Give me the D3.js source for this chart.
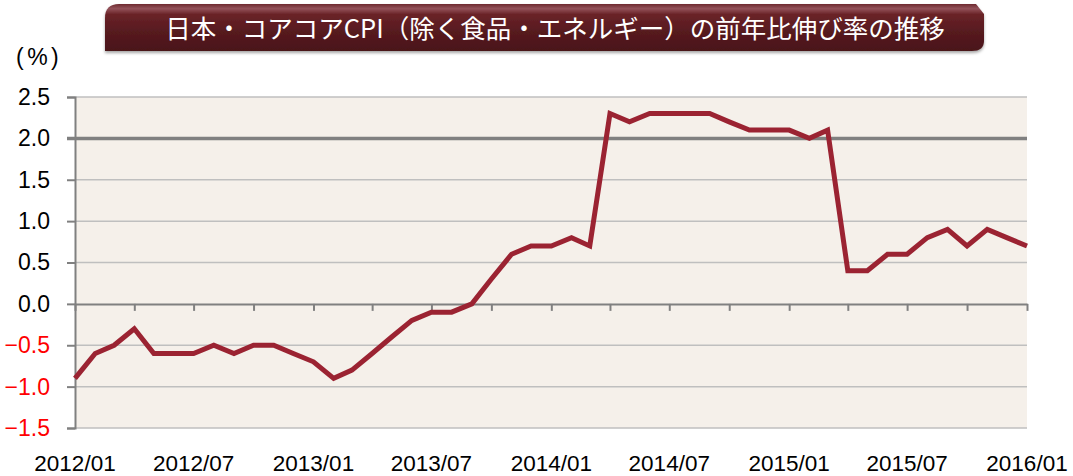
<!DOCTYPE html>
<html>
<head>
<meta charset="utf-8">
<script src="https://cdn.jsdelivr.net/npm/d3@7"></script>
<style>
  body { margin: 0; background: #fff; }
  svg text { font-family: "Liberation Sans", Arial, sans-serif; }
</style>
</head>
<body>
<script>
// chart data
var title = "日本・コアコアCPI（除く食品・エネルギー）の前年比伸び率の推移";
var startMonth = "2012/01";
var cpiValues = [-0.9, -0.6, -0.5, -0.3, -0.6, -0.6, -0.6, -0.5, -0.6, -0.5, -0.5, -0.6,
                 -0.7, -0.9, -0.8, -0.6, -0.4, -0.2, -0.1, -0.1, 0.0, 0.3, 0.6, 0.7,
                 0.7, 0.8, 0.7, 2.3, 2.2, 2.3, 2.3, 2.3, 2.3, 2.2, 2.1, 2.1,
                 2.1, 2.0, 2.1, 0.4, 0.4, 0.6, 0.6, 0.8, 0.9, 0.7, 0.9, 0.8,
                 0.7];
var xTickLabels = ["2012/01", "2012/07", "2013/01", "2013/07", "2014/01", "2014/07", "2015/01", "2015/07", "2016/01"];
var yTicks = [2.5, 2.0, 1.5, 1.0, 0.5, 0.0, -0.5, -1.0, -1.5];

var svgWidth = 1073;
var svgHeight = 476;
var margin = { top: 97, right: 46, bottom: 48, left: 75 };
var width = svgWidth - margin.left - margin.right;
var height = svgHeight - margin.top - margin.bottom;

var parseMonth = d3.timeParse("%Y/%m");
var t0 = parseMonth(startMonth);
var months = cpiValues.map(function (v, i) { return d3.timeMonth.offset(t0, i); });

var svg = d3.select("body").append("svg")
  .attr("width", svgWidth)
  .attr("height", svgHeight);

var defs = svg.append("defs");
var grad = defs.append("linearGradient")
  .attr("id", "bannerGrad")
  .attr("x1", 0).attr("y1", 0).attr("x2", 0).attr("y2", 1);
grad.append("stop").attr("offset", "0%").attr("stop-color", "#6e2a30");
grad.append("stop").attr("offset", "10%").attr("stop-color", "#93525a");
grad.append("stop").attr("offset", "22%").attr("stop-color", "#6a2228");
grad.append("stop").attr("offset", "60%").attr("stop-color", "#561a1f");
grad.append("stop").attr("offset", "100%").attr("stop-color", "#4a1519");

var shadow = defs.append("filter").attr("id", "bshadow")
  .attr("x", "-5%").attr("y", "-20%").attr("width", "110%").attr("height", "160%");
shadow.append("feDropShadow")
  .attr("dx", 0).attr("dy", 2).attr("stdDeviation", 1.5)
  .attr("flood-color", "#000").attr("flood-opacity", 0.35);

// title banner
var bx0 = 105, bx1 = 984, by0 = 4, by1 = 51;
svg.append("path")
  .attr("d", "M" + bx0 + "," + by1 +
    " L" + bx0 + "," + (by0 + 14) +
    " Q" + bx0 + "," + by0 + " " + (bx0 + 14) + "," + by0 +
    " L" + (bx1 - 8) + "," + by0 +
    " L" + bx1 + "," + (by0 + 10) +
    " L" + bx1 + "," + (by1 - 10) +
    " Q" + bx1 + "," + by1 + " " + (bx1 - 12) + "," + by1 + " Z")
  .attr("fill", "url(#bannerGrad)")
  .attr("filter", "url(#bshadow)");

svg.append("text")
  .attr("x", 555)
  .attr("y", 38)
  .attr("text-anchor", "middle")
  .attr("fill", "#fff")
  .style("font-family", "'Noto Sans CJK JP', sans-serif")
  .style("font-size", "25.5px")
  .text(title);

var chartGroup = svg.append("g")
  .attr("transform", "translate(" + margin.left + "," + margin.top + ")");

var xScale = d3.scaleTime()
  .domain([months[0], months[months.length - 1]])
  .range([0, width]);

var yScale = d3.scaleLinear()
  .domain([-1.5, 2.5])
  .range([height, 0]);

// plot background
chartGroup.append("rect")
  .attr("x", 0).attr("y", 0)
  .attr("width", width).attr("height", height)
  .attr("fill", "#f5f0ea");

// gridlines
chartGroup.selectAll(".grid")
  .data(yTicks.filter(function (d) { return d !== 0 && d !== 2.0; }))
  .enter()
  .append("line")
  .attr("x1", 0).attr("x2", width)
  .attr("y1", function (d) { return yScale(d); })
  .attr("y2", function (d) { return yScale(d); })
  .attr("stroke", "#bfbfbf")
  .attr("stroke-width", 1.5);

// 2.0 reference line
chartGroup.append("line")
  .attr("x1", -8).attr("x2", width)
  .attr("y1", yScale(2.0)).attr("y2", yScale(2.0))
  .attr("stroke", "#808080")
  .attr("stroke-width", 3.5);

// y axis
var leftAxis = d3.axisLeft(yScale)
  .tickValues(yTicks)
  .tickSize(8)
  .tickPadding(17)
  .tickFormat(d3.format(".1f"));

var yAxis = chartGroup.append("g").call(leftAxis);
yAxis.select(".domain").attr("stroke", "#808080").attr("stroke-width", 2);
yAxis.selectAll(".tick line").attr("stroke", "#808080").attr("stroke-width", 2);
yAxis.selectAll(".tick text")
  .style("font-size", "23px")
  .attr("fill", function (d) { return d < 0 ? "#ff0000" : "#000"; });

// x axis along zero
var quarterTicks = months.filter(function (d, i) { return i % 3 === 0; });
var bottomAxis = d3.axisBottom(xScale)
  .tickValues(quarterTicks)
  .tickSize(7)
  .tickSizeOuter(0)
  .tickFormat("");

var xAxis = chartGroup.append("g")
  .attr("transform", "translate(0," + yScale(0) + ")")
  .call(bottomAxis);
xAxis.select(".domain").attr("stroke", "#808080").attr("stroke-width", 2);
xAxis.selectAll(".tick line").attr("stroke", "#808080").attr("stroke-width", 2);

// x labels at the bottom
chartGroup.selectAll(".xlabel")
  .data(xTickLabels)
  .enter()
  .append("text")
  .attr("x", function (d) { return xScale(parseMonth(d)); })
  .attr("y", height + 43)
  .attr("text-anchor", "middle")
  .style("font-size", "22.5px")
  .attr("fill", "#000")
  .text(function (d) { return d; });

// unit label
svg.append("text")
  .attr("x", 16)
  .attr("y", 65)
  .style("font-size", "23px")
  .style("letter-spacing", "3.5px")
  .attr("fill", "#000")
  .text("(%)");

// the line
var line = d3.line()
  .x(function (d, i) { return xScale(months[i]); })
  .y(function (d) { return yScale(d); });

chartGroup.append("path")
  .datum(cpiValues)
  .attr("d", line)
  .attr("fill", "none")
  .attr("stroke", "#9b2332")
  .attr("stroke-width", 5)
  .attr("stroke-linejoin", "miter");
</script>
</body>
</html>
